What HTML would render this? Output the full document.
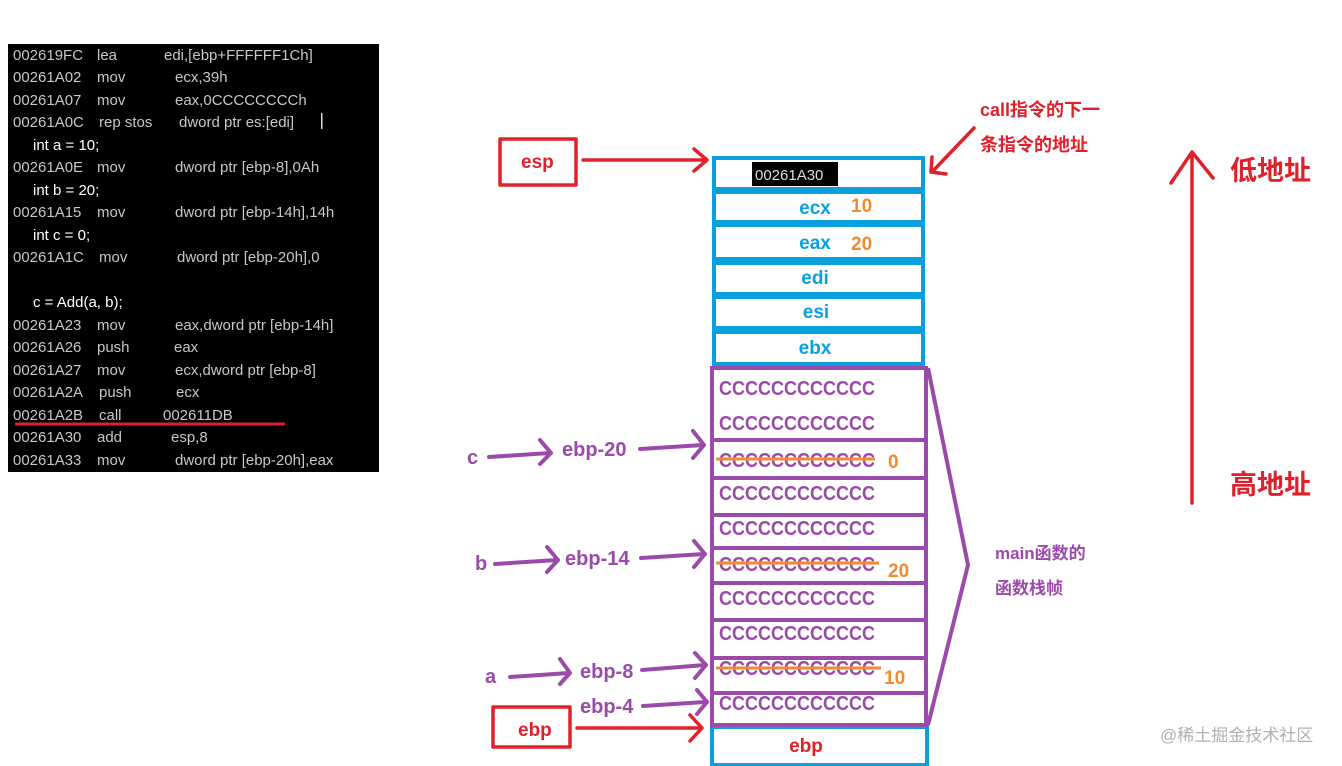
<!DOCTYPE html>
<html><head><meta charset="utf-8"><style>
html,body{margin:0;padding:0;background:#fff;width:1342px;height:766px;overflow:hidden}
svg text{font-family:"Liberation Sans","Noto Sans CJK SC",sans-serif}
</style></head><body>
<svg width="1342" height="766" xmlns="http://www.w3.org/2000/svg">
<rect x="8" y="44" width="371" height="428" fill="#000"/>
<g font-size="15" fill="#c8c8c8">
<text x="13" y="60">002619FC</text><text x="97" y="60">lea</text><text x="164" y="60">edi,[ebp+FFFFFF1Ch]</text>
<text x="13" y="82">00261A02</text><text x="97" y="82">mov</text><text x="175" y="82">ecx,39h</text>
<text x="13" y="105">00261A07</text><text x="97" y="105">mov</text><text x="175" y="105">eax,0CCCCCCCCh</text>
<text x="13" y="127">00261A0C</text><text x="99" y="127">rep stos</text><text x="179" y="127">dword ptr es:[edi]</text>
<rect x="321" y="113" width="1.5" height="16" fill="#ddd"/>
<text x="33" y="150" fill="#fff">int a = 10;</text>
<text x="13" y="172">00261A0E</text><text x="97" y="172">mov</text><text x="175" y="172">dword ptr [ebp-8],0Ah</text>
<text x="33" y="195" fill="#fff">int b = 20;</text>
<text x="13" y="217">00261A15</text><text x="97" y="217">mov</text><text x="175" y="217">dword ptr [ebp-14h],14h</text>
<text x="33" y="240" fill="#fff">int c = 0;</text>
<text x="13" y="262">00261A1C</text><text x="99" y="262">mov</text><text x="177" y="262">dword ptr [ebp-20h],0</text>
<text x="33" y="307" fill="#fff">c = Add(a, b);</text>
<text x="13" y="330">00261A23</text><text x="97" y="330">mov</text><text x="175" y="330">eax,dword ptr [ebp-14h]</text>
<text x="13" y="352">00261A26</text><text x="97" y="352">push</text><text x="174" y="352">eax</text>
<text x="13" y="375">00261A27</text><text x="97" y="375">mov</text><text x="175" y="375">ecx,dword ptr [ebp-8]</text>
<text x="13" y="397">00261A2A</text><text x="99" y="397">push</text><text x="176" y="397">ecx</text>
<text x="13" y="420">00261A2B</text><text x="99" y="420">call</text><text x="163" y="420">002611DB</text>
<text x="13" y="442">00261A30</text><text x="97" y="442">add</text><text x="171" y="442">esp,8</text>
<text x="13" y="465">00261A33</text><text x="97" y="465">mov</text><text x="175" y="465">dword ptr [ebp-20h],eax</text>
</g>
<line x1="15" y1="424" x2="285" y2="424" stroke="#e0202a" stroke-width="3"/>

<g fill="none" stroke="#0aa0e0" stroke-width="4">
<rect x="714" y="158" width="209" height="31"/>
<rect x="714" y="192" width="209" height="30"/>
<rect x="714" y="225" width="209" height="34"/>
<rect x="714" y="263" width="209" height="31"/>
<rect x="714" y="297" width="209" height="31"/>
<rect x="714" y="332" width="209" height="32"/>
<rect x="712" y="727" width="215" height="38"/>
</g>
<rect x="752" y="162" width="86" height="24" fill="#000"/>
<text x="755" y="180" font-size="15" fill="#ddd">00261A30</text>
<g font-size="19" font-weight="bold" fill="#0aa0e0" text-anchor="middle">
<text x="815" y="214">ecx</text><text x="815" y="249">eax</text>
<text x="815" y="284">edi</text><text x="816" y="318">esi</text><text x="815" y="354">ebx</text>
</g>
<g font-size="19" font-weight="bold" fill="#f28a2e">
<text x="851" y="212">10</text><text x="851" y="250">20</text>
</g>

<g fill="none" stroke="#9a4aa8" stroke-width="4">
<rect x="712" y="368" width="214" height="357"/>
<line x1="712" y1="440" x2="926" y2="440"/><line x1="712" y1="478" x2="926" y2="478"/>
<line x1="712" y1="515" x2="926" y2="515"/><line x1="712" y1="548" x2="926" y2="548"/>
<line x1="712" y1="583" x2="926" y2="583"/><line x1="712" y1="620" x2="926" y2="620"/>
<line x1="712" y1="658" x2="926" y2="658"/><line x1="712" y1="693" x2="926" y2="693"/>
<polyline points="928,368 968,565 928,725"/>
</g>
<g font-size="20" font-weight="bold" fill="#9a4aa8">
<text x="719" y="395" textLength="156" lengthAdjust="spacingAndGlyphs">CCCCCCCCCCCC</text>
<text x="719" y="430" textLength="156" lengthAdjust="spacingAndGlyphs">CCCCCCCCCCCC</text>
<text x="719" y="467" textLength="156" lengthAdjust="spacingAndGlyphs">CCCCCCCCCCCC</text>
<text x="719" y="500" textLength="156" lengthAdjust="spacingAndGlyphs">CCCCCCCCCCCC</text>
<text x="719" y="535" textLength="156" lengthAdjust="spacingAndGlyphs">CCCCCCCCCCCC</text>
<text x="719" y="571" textLength="156" lengthAdjust="spacingAndGlyphs">CCCCCCCCCCCC</text>
<text x="719" y="605" textLength="156" lengthAdjust="spacingAndGlyphs">CCCCCCCCCCCC</text>
<text x="719" y="640" textLength="156" lengthAdjust="spacingAndGlyphs">CCCCCCCCCCCC</text>
<text x="719" y="675" textLength="156" lengthAdjust="spacingAndGlyphs">CCCCCCCCCCCC</text>
<text x="719" y="710" textLength="156" lengthAdjust="spacingAndGlyphs">CCCCCCCCCCCC</text>
</g>
<g stroke="#f28a2e" stroke-width="3">
<line x1="716" y1="459" x2="875" y2="459"/><line x1="716" y1="563" x2="879" y2="563"/><line x1="716" y1="668" x2="881" y2="668"/>
</g>
<g font-size="19" font-weight="bold" fill="#f28a2e">
<text x="888" y="468">0</text><text x="888" y="577">20</text><text x="884" y="684">10</text>
</g>
<text x="806" y="752" font-size="19" font-weight="bold" fill="#e0202a" text-anchor="middle">ebp</text>
<g font-size="17" font-weight="bold" fill="#9a4aa8">
<text x="995" y="559">main函数的</text><text x="995" y="594">函数栈帧</text>
</g>
<g font-size="20" font-weight="bold" fill="#9a4aa8">
<text x="467" y="464">c</text><text x="562" y="456">ebp-20</text>
<text x="475" y="570">b</text><text x="565" y="565">ebp-14</text>
<text x="485" y="683">a</text><text x="580" y="678">ebp-8</text><text x="580" y="713">ebp-4</text>
</g>
<g fill="none" stroke="#9a4aa8" stroke-width="4" stroke-linecap="round" stroke-linejoin="round">
<path d="M489,457 L550,453 M540,440 L551,453 L540,464"/>
<path d="M640,449 L703,445 M693,431 L704,445 L693,458"/>
<path d="M495,564 L557,560 M547,547 L558,560 M547,572 L558,560"/>
<path d="M641,558 L704,554 M694,541 L705,554 L694,567"/>
<path d="M510,677 L569,673 M560,659 L570,673 L560,684"/>
<path d="M642,670 L705,665 M695,653 L706,665 L695,678"/>
<path d="M643,706 L705,702 M697,690 L707,702 L697,714"/>
</g>

<g fill="none" stroke="#e0202a" stroke-width="3.5" stroke-linecap="round" stroke-linejoin="round">
<rect x="500" y="139" width="76" height="46"/>
<rect x="493" y="707" width="77" height="40"/>
<path d="M583,160 L706,160 M694,149 L707,160 L694,171"/>
<path d="M577,728 L701,728 M690,715 L702,728 L690,741"/>
<path d="M974,128 L932,172 M932,157 L931,172 L946,174"/>
<path d="M1192,503 L1192,152 M1171,183 L1192,152 L1213,178"/>
</g>
<g font-weight="bold" fill="#e0202a">
<text x="521" y="168" font-size="19">esp</text>
<text x="518" y="736" font-size="19">ebp</text>
<text x="980" y="116" font-size="18">call指令的下一</text>
<text x="980" y="151" font-size="18">条指令的地址</text>
<text x="1230" y="180" font-size="27">低地址</text>
<text x="1230" y="494" font-size="27">高地址</text>
</g>
<text x="1160" y="741" font-size="17" fill="#b0b0b0">@稀土掘金技术社区</text>
</svg>
</body></html>
